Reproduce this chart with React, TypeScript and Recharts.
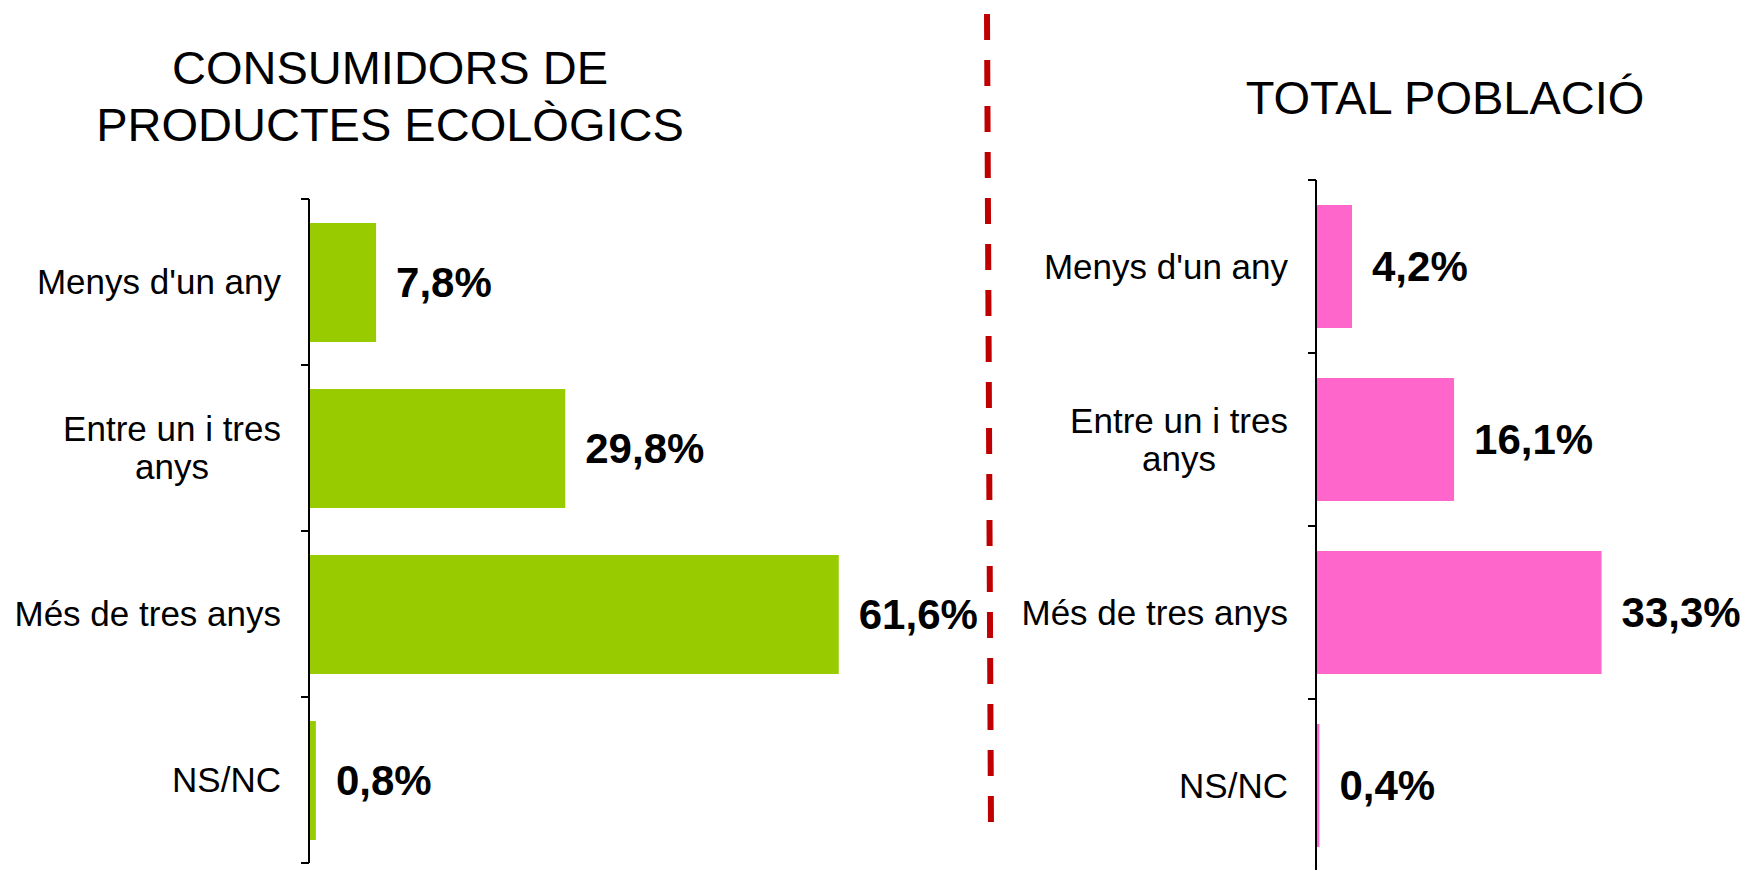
import { Bar, BarChart, LabelList, XAxis, YAxis } from 'recharts';

const categories = ["Menys d'un any", 'Entre un i tres anys', 'Més de tres anys', 'NS/NC'];
const consumidorsValues = [7.8, 29.8, 61.6, 0.8];
const poblacioValues = [4.2, 16.1, 33.3, 0.4];
const consumidorsTitle = ['CONSUMIDORS DE', 'PRODUCTES ECOLÒGICS'];
const poblacioTitle = ['TOTAL POBLACIÓ'];

const FONT = "'Liberation Sans', Arial, sans-serif";
const TICK_SIZE = 35;
const TICK_LINE_HEIGHT = 38;

let measureCtx: CanvasRenderingContext2D | null = null;
function textWidth(text: string, size: number) {
  if (!measureCtx) measureCtx = document.createElement('canvas').getContext('2d');
  if (!measureCtx) return text.length * size * 0.5;
  measureCtx.font = `${size}px ${FONT}`;
  return measureCtx.measureText(text).width;
}

function wrapWords(text: string, size: number, maxWidth: number) {
  const lines: string[] = [];
  let current = '';
  for (const word of text.split(' ')) {
    const next = current ? `${current} ${word}` : word;
    if (current && textWidth(next, size) > maxWidth) {
      lines.push(current);
      current = word;
    } else {
      current = next;
    }
  }
  if (current) lines.push(current);
  return lines;
}

const formatPct = (v: unknown) => `${Number(v).toFixed(1).replace('.', ',')}%`;

function CategoryTick(props: any) {
  const { y, payload, axisX, band } = props;
  const label = String(payload.value);
  const lines = wrapWords(label, TICK_SIZE, 275);
  const right = axisX - 28;
  const multi = lines.length > 1;
  const blockW = Math.max(...lines.map((l) => textWidth(l, TICK_SIZE)));
  const startY = y - ((lines.length - 1) * TICK_LINE_HEIGHT) / 2;
  const isLast = label === categories[categories.length - 1];
  return (
    <g>
      <line x1={axisX - 8} x2={axisX} y1={y - band / 2} y2={y - band / 2} stroke="#000" strokeWidth={2} />
      {isLast && (
        <line x1={axisX - 8} x2={axisX} y1={y + band / 2} y2={y + band / 2} stroke="#000" strokeWidth={2} />
      )}
      <text fontFamily={FONT} fontSize={TICK_SIZE} fill="#000" textAnchor={multi ? 'middle' : 'end'}>
        {lines.map((line, i) => (
          <tspan key={i} x={multi ? right - blockW / 2 : right} y={startY + i * TICK_LINE_HEIGHT} dy="0.35em">
            {line}
          </tspan>
        ))}
      </text>
    </g>
  );
}

function Panel({
  values,
  color,
  left,
  width,
  height,
  top,
  bottom,
  axisWidth,
  right,
  domainMax,
  barSize,
}: {
  values: number[];
  color: string;
  left: number;
  width: number;
  height: number;
  top: number;
  bottom: number;
  axisWidth: number;
  right: number;
  domainMax: number;
  barSize: number;
}) {
  const data = categories.map((name, i) => ({ name, value: values[i] }));
  const band = (height - top - bottom) / categories.length;
  return (
    <div style={{ position: 'absolute', left, top: 0, width, height }}>
      <BarChart
        width={width}
        height={height}
        data={data}
        layout="vertical"
        margin={{ top, bottom, left: 0, right }}
      >
        <XAxis type="number" hide domain={[0, domainMax]} />
        <YAxis
          type="category"
          dataKey="name"
          width={axisWidth}
          interval={0}
          axisLine={{ stroke: '#000', strokeWidth: 2 }}
          tickLine={false}
          tick={(p: any) => <CategoryTick {...p} axisX={axisWidth} band={band} />}
        />
        <Bar dataKey="value" fill={color} barSize={barSize} isAnimationActive={false}>
          <LabelList
            dataKey="value"
            position="right"
            offset={20}
            formatter={formatPct}
            fill="#000"
            fontSize={42}
            fontWeight="bold"
            fontFamily={FONT}
          />
        </Bar>
      </BarChart>
    </div>
  );
}

export default function App() {
  return (
    <div
      style={{
        position: 'absolute',
        left: 0,
        top: 0,
        width: 1744,
        height: 870,
        overflow: 'hidden',
        background: '#fff',
      }}
    >
      <svg width={1744} height={870} style={{ position: 'absolute', left: 0, top: 0 }}>
        {consumidorsTitle.map((line, i) => (
          <text key={line} x={390} y={84 + i * 57} textAnchor="middle" fontFamily={FONT} fontSize={47} fill="#000">
            {line}
          </text>
        ))}
        {poblacioTitle.map((line) => (
          <text key={line} x={1445} y={114} textAnchor="middle" fontFamily={FONT} fontSize={47} fill="#000">
            {line}
          </text>
        ))}
        <line x1={987} y1={14} x2={991} y2={829} stroke="#C00000" strokeWidth={6} strokeDasharray="26 20" />
      </svg>
      <Panel
        values={consumidorsValues}
        color="#99CC00"
        left={0}
        width={980}
        height={870}
        top={199}
        bottom={7}
        axisWidth={309}
        right={69}
        domainMax={70}
        barSize={119}
      />
      <Panel
        values={poblacioValues}
        color="#FF66CC"
        left={990}
        width={754}
        height={872}
        top={180}
        bottom={0}
        axisWidth={326}
        right={85}
        domainMax={40}
        barSize={123}
      />
    </div>
  );
}
